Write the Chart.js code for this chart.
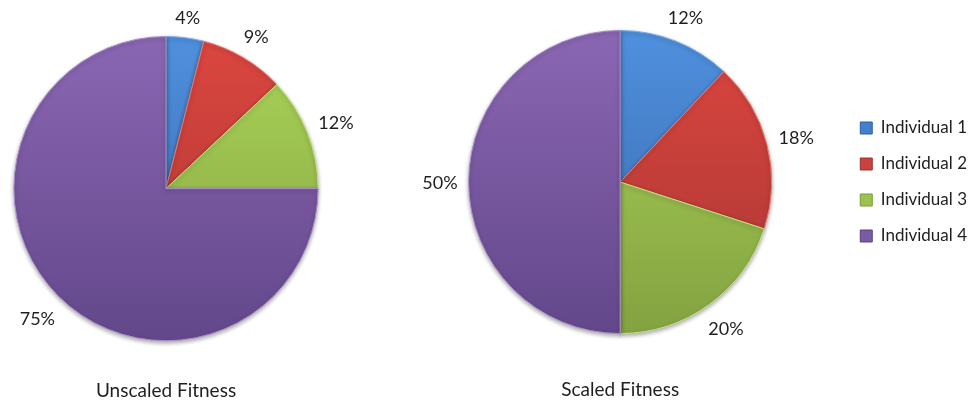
<!DOCTYPE html>
<html>
<head>
<meta charset="utf-8">
<title>Unscaled vs Scaled Fitness</title>
<script src="https://cdn.jsdelivr.net/npm/chart.js@4.4.1/dist/chart.umd.min.js"></script>
<style>
  html, body { margin: 0; padding: 0; background: #fff; overflow: hidden; }
  body { width: 980px; height: 403px; position: relative; }
  canvas { position: absolute; top: 0; }
  #unscaled { left: 0; }
  #scaled { left: 399px; }
</style>
</head>
<body>
<canvas id="unscaled" width="380" height="403"></canvas>
<canvas id="scaled" width="578" height="403"></canvas>
<script>
/* global Chart */
const individuals = ["Individual 1", "Individual 2", "Individual 3", "Individual 4"];
const unscaledFitness = [4, 9, 12, 75];
const scaledFitness = [12, 18, 20, 50];

// slice shading: lit at the top of the pie, darker towards the bottom
const topShade = ["#4f90de", "#dc4640", "#abd458", "#8b67b3"];
const bottomShade = ["#3866a8", "#a93632", "#83a241", "#62478a"];
const rimShade = ["#7aaee8", "#e77a74", "#c3e283", "#a98ccb"];
const keyShade = ["#4380cb", "#c8433e", "#9bc24f", "#7a5aa5"];
const keyEdge = ["#2f5f9e", "#9b302c", "#7a9a3a", "#5b4280"];

const FONT = "Lato, 'Open Sans', sans-serif";
const INK = "#1e1e1e";

Chart.defaults.font.family = FONT;
Chart.defaults.color = INK;

const $ = (id) => document.getElementById(id);

function sliceFill(ctx) {
  const chart = ctx.chart;
  const area = chart.chartArea;
  const i = ctx.dataIndex;
  if (!area) return keyShade[i];
  const cy = (area.top + area.bottom) / 2;
  const r = Math.min(area.width, area.height) / 2;
  const g = chart.ctx.createLinearGradient(0, cy - r, 0, cy + r);
  g.addColorStop(0, topShade[i]);
  g.addColorStop(1, bottomShade[i]);
  return g;
}

// soft drop shadow under the slices
const pieShadow = {
  id: "pieShadow",
  beforeDatasetDraw(chart) {
    const { ctx } = chart;
    ctx.save();
    ctx.shadowColor = "rgba(0, 0, 0, 0.35)";
    ctx.shadowBlur = 4;
    ctx.shadowOffsetY = 2;
  },
  afterDatasetDraw(chart) {
    chart.ctx.restore();
  },
};

// percentage labels just outside each slice, on its middle angle
const outsideLabels = {
  id: "outsideLabels",
  afterDatasetsDraw(chart) {
    const { ctx } = chart;
    const values = chart.data.datasets[0].data;
    const meta = chart.getDatasetMeta(0);
    ctx.save();
    ctx.font = `18px ${FONT}`;
    ctx.fillStyle = INK;
    ctx.textAlign = "center";
    ctx.textBaseline = "middle";
    meta.data.forEach((arc, i) => {
      const { x, y, startAngle, endAngle, outerRadius } = arc.getProps(
        ["x", "y", "startAngle", "endAngle", "outerRadius"], true);
      const mid = (startAngle + endAngle) / 2;
      const ux = Math.cos(mid);
      const uy = Math.sin(mid);
      const text = values[i] + "%";
      const halfW = ctx.measureText(text).width / 2;
      const reach = outerRadius + 11 + Math.abs(ux) * halfW + Math.abs(uy) * 9;
      ctx.fillText(text, x + ux * reach, y + uy * reach + 1.5);
    });
    ctx.restore();
  },
};

function makePie(canvasId, values, title, opts) {
  return new Chart($(canvasId), {
    type: "pie",
    data: {
      labels: individuals,
      datasets: [{
        data: values,
        backgroundColor: sliceFill,
        borderColor: rimShade,
        borderWidth: 1,
      }],
    },
    options: {
      responsive: false,
      animation: false,
      events: [],
      layout: { padding: opts.padding },
      plugins: {
        tooltip: { enabled: false },
        title: {
          display: true,
          text: title,
          position: "bottom",
          fullSize: false,
          color: INK,
          font: { family: FONT, size: 19, weight: "normal" },
          padding: opts.titlePadding,
        },
        legend: opts.legend,
      },
    },
    plugins: [pieShadow, outsideLabels],
  });
}

makePie("unscaled", unscaledFitness, "Unscaled Fitness", {
  padding: { left: 0, right: 48, top: 36, bottom: 0 },
  titlePadding: { top: 38.5, bottom: 0.5 },
  legend: { display: false },
});

makePie("scaled", scaledFitness, "Scaled Fitness", {
  padding: { left: 0, right: 0, top: 30, bottom: 0 },
  titlePadding: { top: 44.8, bottom: 1.4 },
  legend: {
    display: true,
    position: "right",
    fullSize: false,
    labels: {
      color: INK,
      font: { family: FONT, size: 17 },
      boxWidth: 12,
      boxHeight: 12,
      padding: 19,
      generateLabels: (chart) => chart.data.labels.map((text, i) => ({
        text,
        fillStyle: keyShade[i],
        strokeStyle: keyEdge[i],
        lineWidth: 1,
        fontColor: INK,
        hidden: false,
        index: i,
      })),
    },
  },
});
</script>
</body>
</html>
